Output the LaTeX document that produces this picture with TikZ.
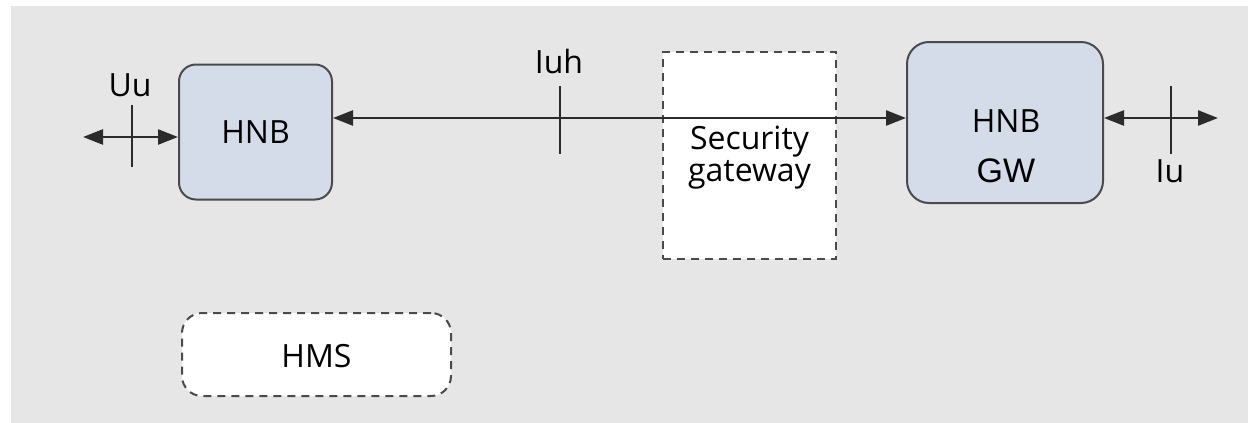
\documentclass[tikz,border=0pt]{standalone}
\usepackage{fontspec}
\newfontfamily\osans{Open Sans}
\newfontfamily\arialfont{Liberation Sans}
\usetikzlibrary{arrows.meta}
\definecolor{panelgray}{HTML}{E6E6E6}
\definecolor{boxblue}{HTML}{D4DBE9}
\definecolor{boxline}{HTML}{4A4A4A}
\definecolor{wire}{HTML}{2B2B2B}
\tikzset{
  txt/.style={font=\osans\fontsize{16}{19}\selectfont, text=black, inner sep=0pt, anchor=base},
  element/.style={draw=boxline, line width=1pt, fill=boxblue, rounded corners=#1, inner sep=0pt},
  optional/.style={draw=boxline, line width=1pt, fill=white, dash pattern=on 4pt off 3pt, rounded corners=#1, inner sep=0pt},
  link/.style={draw=wire, line width=1.2pt, {Triangle[length=10pt,width=7.5pt]}-{Triangle[length=10pt,width=7.5pt]}},
  tick/.style={draw=wire, line width=1.1pt},
}
\begin{document}
\begin{tikzpicture}[x=0.5pt,y=-0.5pt]
  \useasboundingbox (0,0) rectangle (1248,423);
  \fill[panelgray] (11,6) rectangle (1248,423);

  % network elements
  \node[element=8.5pt, minimum width=76.5pt, minimum height=67.5pt] (hnb) at (255.5,132) {};
  \node[txt] at (255.5,143) {HNB};

  \node[optional=0pt, minimum width=86.5pt, minimum height=103.5pt] (segw) at (749.5,155.5) {};
  \node[txt] at (749.5,149) {Security};
  \node[txt] at (749.5,181) {gateway};

  \node[element=11pt, minimum width=98pt, minimum height=80.5pt] (gw) at (1005,122.5) {};
  \node[txt] at (1006,132) {HNB};
  \node[txt, font=\arialfont\fontsize{17}{20}\selectfont] at (1006,182) {GW};

  \node[optional=10pt, minimum width=134.5pt, minimum height=41.5pt] (hms) at (316.5,354.5) {};
  \node[txt] at (316.5,367) {HMS};

  % reference points on the interfaces
  \coordinate (uuend) at (83,137);
  \coordinate (iuhpt) at (560,118);
  \coordinate (iuend) at (1218,118);

  % Uu interface
  \draw[link] (uuend) -- (hnb.west |- uuend);
  \draw[tick] (132,105) -- (132,167);
  \node[txt] (uu) at (130,96) {Uu};

  % Iuh interface
  \draw[link] (hnb.east |- iuhpt) -- (gw.west |- iuhpt);
  \draw[tick] (560,86) -- (560,154);
  \node[txt] (iuh) at (559,73) {Iuh};

  % Iu interface
  \draw[link] (gw.east |- iuend) -- (iuend);
  \draw[tick] (1171,86) -- (1171,154);
  \node[txt] (iu) at (1170,182) {Iu};
\end{tikzpicture}
\end{document}
